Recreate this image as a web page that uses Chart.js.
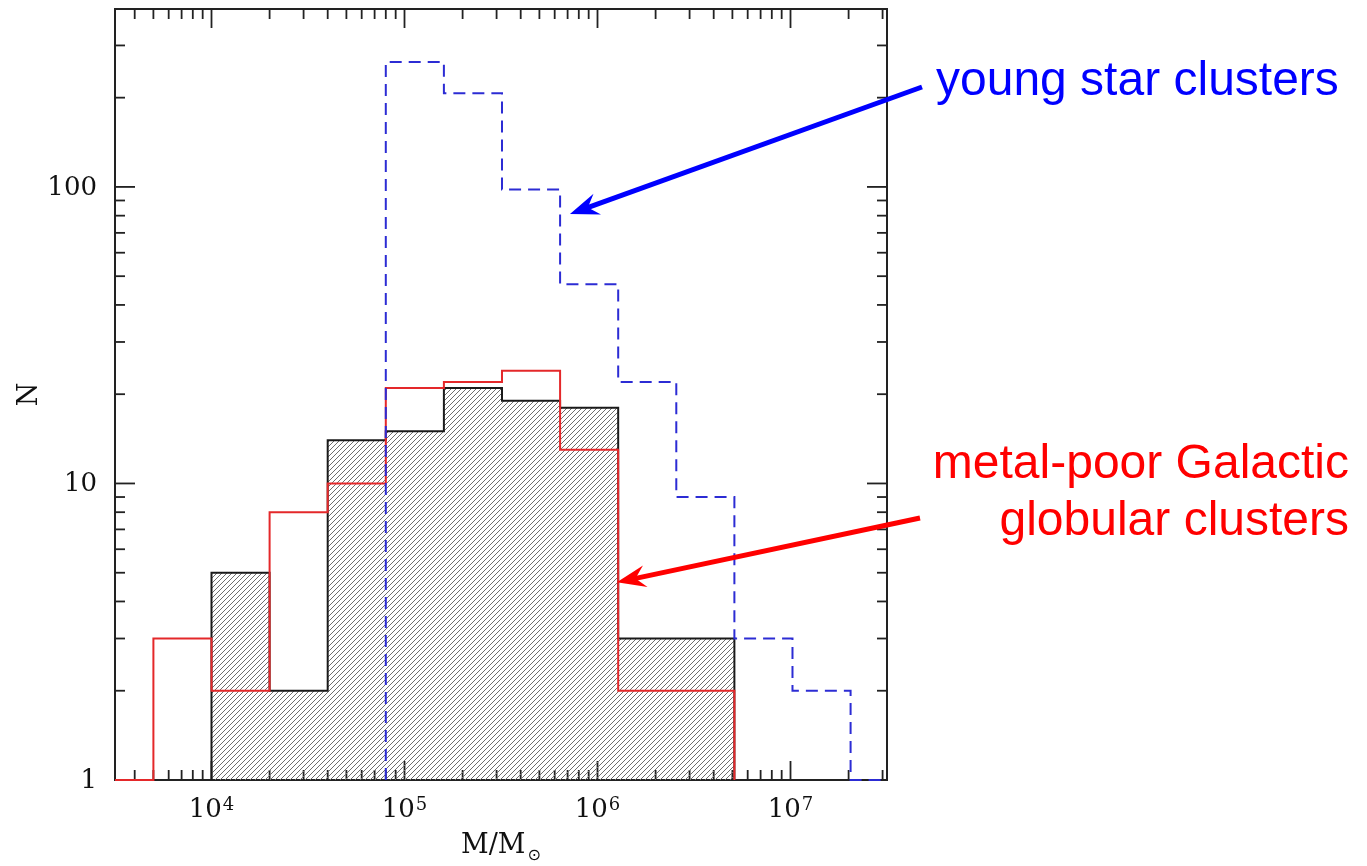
<!DOCTYPE html>
<html><head><meta charset="utf-8">
<script src="https://cdn.jsdelivr.net/npm/chart.js@4/dist/chart.umd.min.js"></script>
<style>html,body{margin:0;padding:0;background:#fff;overflow:hidden}canvas{display:block}</style>
</head><body>
<canvas id="c" width="1367" height="866"></canvas>
<script>
// Mass bins (solar masses), each bin twice as wide as the previous edge
const edgesGalactic = [1e4, 2e4, 4e4, 8e4, 1.6e5, 3.2e5, 6.4e5, 1.28e6, 2.56e6, 5.12e6];
const countsGalactic = [5, 2, 14, 15, 21, 19, 18, 3, 3];
const edgesMetalPoor = [2.5e3, 5e3, 1e4, 2e4, 4e4, 8e4, 1.6e5, 3.2e5, 6.4e5, 1.28e6, 2.56e6, 5.12e6];
const countsMetalPoor = [0, 3, 2, 8, 10, 21, 22, 24, 13, 2, 2];
const edgesYoung = [8e4, 1.6e5, 3.2e5, 6.4e5, 1.28e6, 2.56e6, 5.12e6, 1.024e7, 2.048e7, 4.096e7];
const countsYoung = [264, 207, 98, 47, 22, 9, 3, 2, 0];
const xTickExponents = [4, 5, 6, 7];
const yTickLabels = [1, 10, 100];
const labelYoung = 'young star clusters';
const labelMetalPoor = ['metal-poor Galactic', 'globular clusters'];

const X_MIN = Math.pow(10, 3.5), X_MAX = Math.pow(10, 7.5);
const Y_MIN = 1, Y_MAX = Math.pow(10, 2.6);

// Turn bin edges + counts into the corner points of a step outline (empty bins sit on the floor)
function stepPoints(edges, counts) {
  const pts = [{x: edges[0], y: Y_MIN}];
  counts.forEach((c, i) => pts.push({x: edges[i], y: Math.max(c, Y_MIN)}));
  pts.push({x: edges[edges.length - 1], y: Y_MIN});
  return pts;
}

// Diagonal hatching for the filled histogram
function hatch() {
  const s = 5, cv = document.createElement('canvas');
  cv.width = s; cv.height = s;
  const g = cv.getContext('2d');
  g.strokeStyle = '#6e6e6e'; g.lineWidth = 1;
  g.beginPath();
  g.moveTo(-1, s + 1); g.lineTo(s + 1, -1);
  g.moveTo(-1, 1); g.lineTo(1, -1);
  g.moveTo(s - 1, s + 1); g.lineTo(s + 1, s - 1);
  g.stroke();
  return g.createPattern(cv, 'repeat');
}

const SERIF = '"DejaVu Serif", "Liberation Serif", serif';
const SANS = '"Liberation Sans", Arial, sans-serif';

function seg(ctx, x1, y1, x2, y2) { ctx.beginPath(); ctx.moveTo(x1, y1); ctx.lineTo(x2, y2); ctx.stroke(); }

function arrow(ctx, x1, y1, x2, y2, color) {
  const ang = Math.atan2(y2 - y1, x2 - x1), L = 26, W = 11;
  const c = Math.cos(ang), s = Math.sin(ang);
  const bx = x2 - L * c, by = y2 - L * s;
  ctx.strokeStyle = color; ctx.fillStyle = color; ctx.lineWidth = 5; ctx.lineCap = 'butt';
  seg(ctx, x1, y1, bx + 8 * c, by + 8 * s);
  ctx.beginPath();
  ctx.moveTo(x2, y2);
  ctx.lineTo(bx - W * s - 3 * c, by + W * c - 3 * s);
  ctx.lineTo(bx + 7 * c, by + 7 * s);
  ctx.lineTo(bx + W * s - 3 * c, by - W * c - 3 * s);
  ctx.closePath(); ctx.fill();
}

// Box frame with inward log ticks on all four sides
const framePlugin = {
  id: 'frame',
  beforeDatasetsDraw(chart) {
    const {ctx, chartArea: a, scales: {x, y}} = chart;
    ctx.save();
    ctx.strokeStyle = '#222';
    ctx.lineWidth = 2;
    ctx.strokeRect(a.left, a.top, a.right - a.left, a.bottom - a.top);
    ctx.lineWidth = 1.8;
    for (let d = 3; d <= 7; d++) for (let m = 1; m <= 9; m++) {
      const v = m * Math.pow(10, d);
      if (v <= X_MIN || v >= X_MAX) continue;
      const px = x.getPixelForValue(v), len = m === 1 ? 19 : 10;
      seg(ctx, px, a.bottom, px, a.bottom - len);
      seg(ctx, px, a.top, px, a.top + len);
    }
    for (let d = 0; d <= 2; d++) for (let m = 1; m <= 9; m++) {
      const v = m * Math.pow(10, d);
      if (v <= Y_MIN || v >= Y_MAX) continue;
      const py = y.getPixelForValue(v), len = m === 1 ? 20 : 10;
      seg(ctx, a.left, py, a.left + len, py);
      seg(ctx, a.right, py, a.right - len, py);
    }
    ctx.restore();
  },
  afterDraw(chart) {
    const {ctx, chartArea: a, scales: {x, y}} = chart;
    ctx.save();
    ctx.fillStyle = '#111';
    // y tick labels
    ctx.font = '26px ' + SERIF;
    ctx.textAlign = 'right'; ctx.textBaseline = 'middle';
    yTickLabels.forEach(v => ctx.fillText(String(v), a.left - 18, y.getPixelForValue(v) + 1));
    // x tick labels: 10 with superscript exponent
    ctx.textBaseline = 'alphabetic';
    xTickExponents.forEach(e => {
      const px = x.getPixelForValue(Math.pow(10, e));
      ctx.font = '26px ' + SERIF;
      const wb = ctx.measureText('10').width;
      ctx.font = '18px ' + SERIF;
      const we = ctx.measureText(String(e)).width;
      const x0 = px - (wb + we + 1) / 2;
      ctx.textAlign = 'left';
      ctx.font = '26px ' + SERIF;
      ctx.fillText('10', x0, a.bottom + 37);
      ctx.font = '18px ' + SERIF;
      ctx.fillText(String(e), x0 + wb + 1, a.bottom + 30);
    });
    // axis titles
    ctx.font = '27px ' + SERIF;
    ctx.save();
    ctx.translate(a.left - 85, (a.top + a.bottom) / 2);
    ctx.rotate(-Math.PI / 2);
    ctx.textAlign = 'center'; ctx.textBaseline = 'middle';
    ctx.fillText('N', 0, 0);
    ctx.restore();
    const cx = (a.left + a.right) / 2;
    ctx.font = '27px ' + SERIF;
    const wm = ctx.measureText('M/M').width;
    ctx.font = '16px "DejaVu Sans", sans-serif';
    const ws = ctx.measureText('\u2299').width;
    const tx = cx - (wm + ws + 2) / 2;
    ctx.textAlign = 'left';
    ctx.font = '27px ' + SERIF;
    ctx.fillText('M/M', tx, a.bottom + 73);
    ctx.font = '16px "DejaVu Sans", sans-serif';
    ctx.fillText('\u2299', tx + wm + 2, a.bottom + 80);

    // annotations
    ctx.font = '48px ' + SANS;
    ctx.fillStyle = '#0000ff';
    ctx.textAlign = 'left';
    ctx.fillText(labelYoung, a.right + 49, a.top + 86);
    arrow(ctx, a.right + 35, a.top + 78, x.getPixelForValue(7.2e5), y.getPixelForValue(81), '#0000ff');

    ctx.fillStyle = '#ff0000';
    ctx.textAlign = 'right';
    ctx.fillText(labelMetalPoor[0], a.right + 462, a.top + 469);
    ctx.fillText(labelMetalPoor[1], a.right + 462, a.top + 526);
    arrow(ctx, a.right + 33, a.top + 509, x.getPixelForValue(1.26e6), y.getPixelForValue(4.64), '#ff0000');
    ctx.restore();
  }
};

const floorClip = {left: 0, top: 0, right: 0, bottom: 2};

new Chart(document.getElementById('c'), {
  type: 'line',
  data: {
    datasets: [
      {
        label: 'young star clusters',
        data: stepPoints(edgesYoung, countsYoung),
        stepped: 'before',
        borderColor: '#2c2cd4',
        borderWidth: 2,
        borderDash: [12, 7],
        pointRadius: 0,
        fill: false,
        clip: floorClip
      },
      {
        label: 'metal-poor Galactic globular clusters',
        data: stepPoints(edgesMetalPoor, countsMetalPoor),
        stepped: 'before',
        borderColor: '#e4282a',
        borderWidth: 2,
        pointRadius: 0,
        fill: false,
        clip: floorClip
      },
      {
        label: 'Galactic globular clusters',
        data: stepPoints(edgesGalactic, countsGalactic),
        stepped: 'before',
        borderColor: '#1a1a1a',
        borderWidth: 2,
        backgroundColor: hatch(),
        pointRadius: 0,
        fill: 'start'
      }
    ]
  },
  options: {
    responsive: false,
    animation: false,
    events: [],
    layout: {padding: {left: 115, top: 9, right: 1367 - 887, bottom: 866 - 780}},
    plugins: {legend: {display: false}, tooltip: {enabled: false}},
    scales: {
      x: {type: 'logarithmic', min: X_MIN, max: X_MAX, display: false},
      y: {type: 'logarithmic', min: Y_MIN, max: Y_MAX, display: false}
    }
  },
  plugins: [framePlugin]
});
</script>
</body></html>
